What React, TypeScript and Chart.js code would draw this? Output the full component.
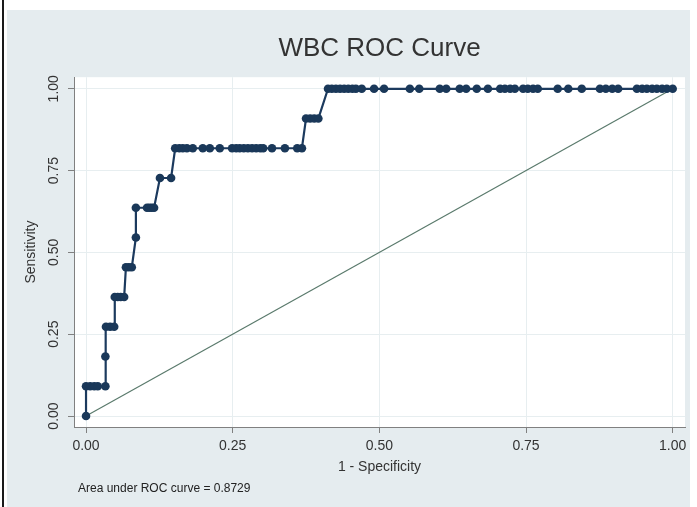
import React, { useEffect, useRef } from "react";
import { Chart, registerables } from "chart.js";

Chart.register(...registerables);

const TITLE = "WBC ROC Curve";
const X_TITLE = "1 - Specificity";
const Y_TITLE = "Sensitivity";
const NOTE = "Area under ROC curve = 0.8729";
const TICK_VALUES = [0, 0.25, 0.5, 0.75, 1];
const TICK_LABELS = ["0.00", "0.25", "0.50", "0.75", "1.00"];

// 1 - Specificity (false positive rate) of each ROC point
const fpr = [
  0,
  0, 0.007, 0.014, 0.02, 0.033,
  0.033,
  0.034, 0.041, 0.048,
  0.049, 0.054, 0.059, 0.065,
  0.068, 0.073, 0.078,
  0.085,
  0.085, 0.104, 0.108, 0.112, 0.116,
  0.126, 0.145,
  0.152, 0.159, 0.165, 0.172, 0.182, 0.199, 0.211, 0.228, 0.249, 0.256, 0.262,
  0.269, 0.276, 0.283, 0.29, 0.297, 0.302, 0.317, 0.339, 0.36, 0.368,
  0.375, 0.382, 0.389, 0.396,
  0.4125, 0.419, 0.426, 0.433, 0.44, 0.447, 0.454, 0.46, 0.47, 0.491, 0.508,
  0.552, 0.568, 0.603, 0.614, 0.637, 0.648, 0.666, 0.685, 0.706, 0.714, 0.723,
  0.731, 0.745, 0.753, 0.762, 0.77, 0.804, 0.822, 0.845, 0.876, 0.886, 0.897,
  0.907, 0.939, 0.948, 0.956, 0.965, 0.973, 0.982, 0.99, 1.0,
];

// Sensitivity of each ROC point
const tpr = [
  0,
  0.0909, 0.0909, 0.0909, 0.0909, 0.0909,
  0.1818,
  0.2727, 0.2727, 0.2727,
  0.3636, 0.3636, 0.3636, 0.3636,
  0.4545, 0.4545, 0.4545,
  0.5455,
  0.6364, 0.6364, 0.6364, 0.6364, 0.6364,
  0.7273, 0.7273,
  0.8182, 0.8182, 0.8182, 0.8182, 0.8182, 0.8182, 0.8182, 0.8182, 0.8182, 0.8182, 0.8182,
  0.8182, 0.8182, 0.8182, 0.8182, 0.8182, 0.8182, 0.8182, 0.8182, 0.8182, 0.8182,
  0.9091, 0.9091, 0.9091, 0.9091,
  1, 1, 1, 1, 1, 1, 1, 1, 1, 1, 1,
  1, 1, 1, 1, 1, 1, 1, 1, 1, 1, 1,
  1, 1, 1, 1, 1, 1, 1, 1, 1, 1, 1,
  1, 1, 1, 1, 1, 1, 1, 1, 1,
];

const refX = [0, 1];
const refY = [0, 1];

const FONT = "'Liberation Sans', Arial, Helvetica, sans-serif";

const plotDecor = {
  id: "plotDecor",
  beforeDraw(chart: any) {
    const { ctx, chartArea: a } = chart;
    ctx.save();
    ctx.fillStyle = "#ffffff";
    ctx.fillRect(a.left, a.top, a.right - a.left, a.bottom - a.top);
    ctx.restore();
  },
  afterDraw(chart: any) {
    const { ctx } = chart;
    const ys = chart.scales.y;
    ctx.save();
    ctx.fillStyle = "#333333";
    ctx.font = `14px ${FONT}`;
    ctx.textAlign = "center";
    ctx.textBaseline = "middle";
    TICK_VALUES.forEach((v, i) => {
      const py = ys.getPixelForValue(v);
      ctx.save();
      ctx.translate(ys.right - 20, py);
      ctx.rotate(-Math.PI / 2);
      ctx.fillText(TICK_LABELS[i], 0, 0);
      ctx.restore();
    });
    ctx.restore();
  },
};

export default function App() {
  const ref = useRef<HTMLCanvasElement>(null);

  useEffect(() => {
    if (!ref.current) return;
    const chart = new Chart(ref.current, {
      type: "scatter",
      data: {
        datasets: [
          {
            label: "ROC",
            data: fpr.map((x, i) => ({ x, y: tpr[i] })),
            showLine: true,
            borderColor: "#1c3a5e",
            borderWidth: 2.2,
            pointRadius: 4.3,
            pointBackgroundColor: "#1a3859",
            pointBorderWidth: 0,
          },
          {
            label: "Reference",
            data: refX.map((x, i) => ({ x, y: refY[i] })),
            showLine: true,
            borderColor: "#5a7a6c",
            borderWidth: 1.2,
            pointRadius: 0,
          },
        ],
      },
      options: {
        responsive: false,
        animation: false,
        devicePixelRatio: 1,
        layout: { padding: { top: 0, left: 0, right: 12, bottom: 0 } },
        plugins: {
          legend: { display: false },
          tooltip: { enabled: false },
          title: {
            display: true,
            fullSize: false,
            text: TITLE,
            color: "#333333",
            font: { family: FONT, size: 26, weight: "normal" },
            padding: { top: 33, bottom: 13 },
          },
        },
        scales: {
          x: {
            type: "linear",
            min: -0.0205,
            max: 1.021,
            afterBuildTicks: (s: any) => {
              s.ticks = TICK_VALUES.map((v) => ({ value: v }));
            },
            afterFit: (s: any) => {
              s.height = 80;
            },
            ticks: {
              autoSkip: false,
              maxRotation: 0,
              padding: 5,
              color: "#333333",
              font: { family: FONT, size: 14 },
              callback: (v: any) => TICK_LABELS[TICK_VALUES.indexOf(Number(v))] ?? "",
            },
            grid: { color: "#e7eef0", tickColor: "#808080", tickLength: 6, drawTicks: true },
            border: { color: "#808080", width: 1 },
            title: {
              display: true,
              text: X_TITLE,
              color: "#333333",
              font: { family: FONT, size: 14 },
              padding: { top: 0, bottom: 31 },
            },
          },
          y: {
            type: "linear",
            min: -0.0336,
            max: 1.0354,
            afterBuildTicks: (s: any) => {
              s.ticks = TICK_VALUES.map((v) => ({ value: v }));
            },
            afterFit: (s: any) => {
              s.width = 74;
            },
            ticks: { display: false },
            grid: { color: "#e7eef0", tickColor: "#808080", tickLength: 6, drawTicks: true },
            border: { color: "#808080", width: 1 },
            title: {
              display: true,
              text: Y_TITLE,
              color: "#333333",
              font: { family: FONT, size: 14 },
              padding: { top: 23, bottom: 0 },
            },
          },
        },
      },
      plugins: [plotDecor],
    });
    return () => chart.destroy();
  }, []);

  return (
    <div
      style={{
        position: "fixed",
        left: 0,
        top: 0,
        width: 697,
        height: 507,
        background: "#ffffff",
        overflow: "hidden",
      }}
    >
      <div style={{ position: "absolute", left: 2, top: 0, width: 2, height: 507, background: "#1a1a1a" }} />
      <div style={{ position: "absolute", left: 7, top: 10, width: 683, height: 497, background: "#e5ecef" }} />
      <canvas ref={ref} width={697} height={507} style={{ position: "absolute", left: 0, top: 0 }} />
      <div
        style={{
          position: "absolute",
          left: 78,
          top: 481,
          fontFamily: FONT,
          fontSize: 12,
          color: "#222222",
          whiteSpace: "nowrap",
        }}
      >
        {NOTE}
      </div>
    </div>
  );
}
